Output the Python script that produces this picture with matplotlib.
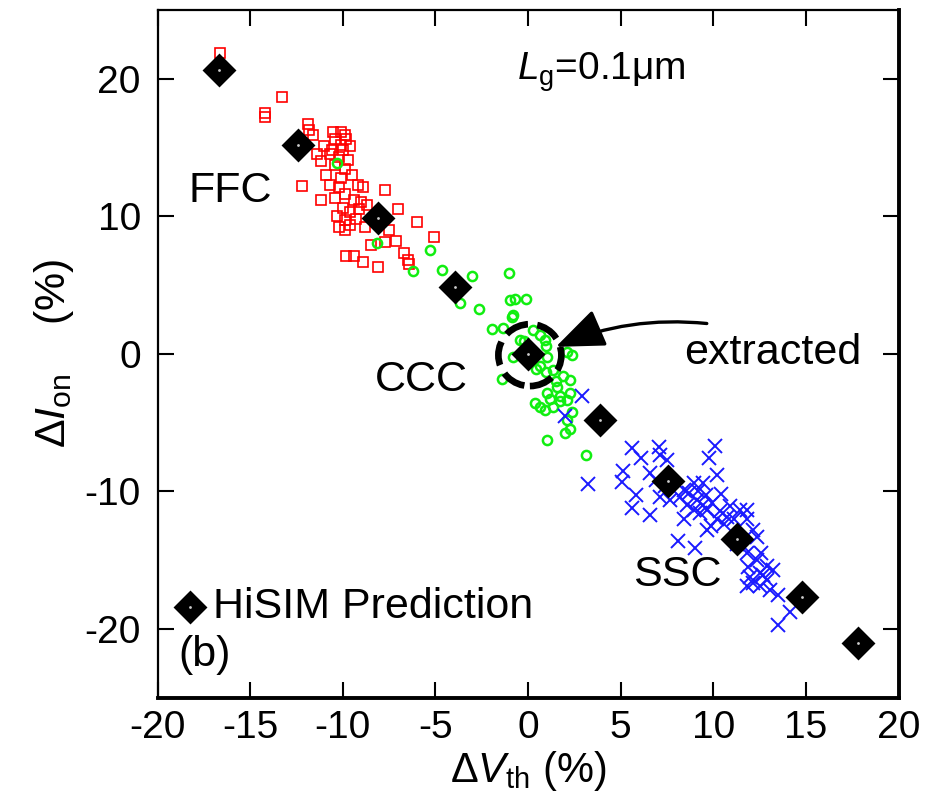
import matplotlib
matplotlib.use('Agg')
import matplotlib.pyplot as plt
from matplotlib.patches import Ellipse

plt.rcParams['font.family'] = ['Liberation Sans', 'DejaVu Sans']
plt.rcParams['mathtext.fontset'] = 'custom'
plt.rcParams['mathtext.rm'] = 'Liberation Sans'
plt.rcParams['mathtext.it'] = 'Liberation Sans:italic'
plt.rcParams['axes.unicode_minus'] = False

# FFC corner samples (red squares)
ffc_dvth = [-16.6, -13.3, -14.2, -14.2, -11.9, -11.8, -11.6, -10.5, -10.1, -9.9,
            -9.8, -10.4, -10.1, -9.6, -11.0, -11.4, -10.7, -10.2, -9.7, -11.2,
            -10.4, -9.9, -10.9, -10.1, -9.5, -12.2, -10.7, -10.2, -9.2, -8.9,
            -7.7, -11.2, -10.4, -9.9, -9.4, -10.0, -9.6, -9.1, -7.0, -9.9,
            -9.6, -9.9, -8.8, -7.5, -6.0, -5.1, -7.1, -6.7, -6.5, -6.4,
            -9.8, -9.4, -8.9, -8.1, -7.7, -8.5, -10.3, -9.3, -10.2, -8.7,
            -9.0, -10.6, -10.0]
ffc_dion = [21.9, 18.7, 17.5, 17.2, 16.7, 16.3, 15.9, 16.1, 16.1, 15.9,
            15.6, 15.6, 15.2, 15.1, 15.1, 14.5, 14.5, 14.3, 14.1, 14.0,
            13.7, 13.4, 13.0, 12.8, 13.0, 12.2, 12.3, 12.1, 12.3, 12.1,
            11.9, 11.2, 11.3, 11.6, 11.2, 10.6, 10.3, 10.5, 10.5, 9.7,
            9.4, 9.0, 9.2, 9.0, 9.6, 8.5, 8.2, 7.3, 6.8, 6.5,
            7.1, 7.1, 6.7, 6.3, 8.1, 7.9, 10.0, 9.8, 9.2, 10.8,
            11.0, 14.8, 14.8]

# CCC corner samples (green circles)
ccc_dvth = [-10.3, -8.15, -5.3, -6.2, -4.65, -3.0, -1.0, -3.65, -2.65, -0.95,
            -0.7, -0.1, -0.85, -1.95, -1.35, 0.25, 0.65, -0.45, 0.95, 2.4,
            2.1, -1.4, 0.65, 1.35, 1.9, 2.25, 0.4, 0.65, 1.0, 1.55,
            1.75, 2.1, 2.25, 1.35, 2.1, 2.25, 2.0, 1.0, 3.15, -0.8,
            1.0, -0.8, 0.45, 0.95, 1.5, 1.2, 1.7, 0.9, 2.4, -0.2,
            0.9]
ccc_dion = [13.9, 8.05, 7.55, 6.0, 6.1, 5.65, 5.9, 3.7, 3.25, 3.9,
            3.95, 4.0, 2.7, 1.8, 1.9, 1.75, 1.4, 1.0, 0.6, -0.1,
            0.1, -1.8, -0.9, -1.15, -1.65, -1.9, -3.55, -3.85, -2.85, -2.4,
            -3.1, -3.35, -2.85, -3.85, -4.8, -5.5, -5.75, -6.25, -7.35, -0.2,
            -0.2, 2.8, -1.1, -1.3, -2.0, -3.3, -3.4, -4.1, -4.2, 0.9,
            1.0]

# SSC corner samples (blue crosses)
ssc_dvth = [2.9, 2.0, 3.25, 5.6, 7.05, 7.15, 7.5, 10.1, 9.75, 10.2,
            5.15, 5.05, 5.85, 5.6, 6.6, 6.6, 8.1, 9.0, 8.95, 9.45,
            7.65, 7.15, 8.2, 9.1, 9.45, 9.65, 9.3, 8.95, 9.95, 10.35,
            10.75, 10.2, 9.9, 9.65, 10.9, 11.45, 11.8, 11.1, 11.8, 12.15,
            12.35, 11.8, 12.35, 12.9, 13.25, 12.5, 12.0, 12.15, 11.8, 12.5,
            12.9, 13.05, 13.5, 14.15, 13.5, 6.1, 8.4, 8.7, 9.2, 8.6,
            9.6, 10.4, 10.6, 11.3, 11.6, 12.6, 12.7, 11.9, 7.4, 6.9,
            8.4]
ssc_dion = [-3.1, -4.55, -9.5, -6.85, -6.75, -7.35, -7.7, -6.7, -7.6, -8.8,
            -8.55, -9.3, -10.25, -11.2, -11.7, -8.65, -13.65, -14.15, -9.4, -9.4,
            -10.6, -10.4, -10.4, -10.6, -11.0, -11.35, -11.6, -11.35, -10.85, -11.45,
            -11.85, -12.05, -12.55, -12.8, -11.1, -11.35, -11.35, -12.05, -12.05, -12.8,
            -13.3, -14.5, -15.0, -15.45, -15.7, -15.95, -16.2, -16.7, -16.9, -16.9,
            -16.45, -17.15, -17.55, -18.75, -19.7, -7.6, -9.9, -10.1, -10.0, -11.0,
            -10.3, -10.2, -12.4, -13.8, -14.0, -14.5, -16.1, -15.5, -9.6, -9.2,
            -12.0]

# HiSIM prediction
hisim_dvth = [-16.7, -12.4, -8.1, -3.95, 0.0, 3.9, 7.55, 11.3, 14.8, 17.8]
hisim_dion = [20.6, 15.2, 9.9, 4.85, 0.0, -4.8, -9.25, -13.5, -17.7, -21.0]

fig = plt.figure(figsize=(9.46, 8.06), dpi=100)
ax = fig.add_axes([0.1665, 0.1346, 0.7833, 0.853])

ax.plot(ffc_dvth, ffc_dion, 's', ms=7.6, mfc='none', mec='#ff0000', mew=1.2, ls='none')
ax.plot(ccc_dvth, ccc_dion, 'o', ms=6.6, mfc='none', mec='#11ee11', mew=1.8, ls='none')
ax.plot(ssc_dvth, ssc_dion, 'x', ms=9.5, mec='#1a1aff', mew=1.4, ls='none')
ax.plot(hisim_dvth, hisim_dion, 'D', ms=15, mfc='black', mec='black', mew=2, ls='none', zorder=5)
ax.plot(hisim_dvth, hisim_dion, 'o', ms=2, color='#cccccc', mew=0, ls='none', zorder=6)

# legend entry drawn by hand
ax.plot([-18.25], [-18.45], 'D', ms=15, mfc='black', mec='black', mew=2, zorder=5)
ax.plot([-18.25], [-18.45], 'o', ms=2, color='#cccccc', mew=0, zorder=6)
ax.text(-17.0, -18.45, 'HiSIM Prediction', fontsize=31, va='center', ha='left')

# extracted point marker
ring = Ellipse((0.1, -0.1), 3.4, 4.5, fill=False, ec='black', lw=4.8,
               ls=(0, (3.6, 1.4)), zorder=7)
ax.add_patch(ring)
ax.annotate('', xy=(1.5, 0.5), xytext=(9.65, 2.2),
            arrowprops=dict(arrowstyle='-|>,head_length=1.5,head_width=0.6',
                            mutation_scale=20, connectionstyle='arc3,rad=0.13',
                            lw=2.4, color='black', shrinkA=0, shrinkB=0),
            zorder=8)
ax.text(8.45, 0.05, 'extracted', fontsize=31, va='center', ha='left')

ax.text(-18.35, 11.8, 'FFC', fontsize=31, va='center', ha='left')
ax.text(-8.26, -1.9, 'CCC', fontsize=31, va='center', ha='left')
ax.text(5.67, -16.1, 'SSC', fontsize=31, va='center', ha='left')
ax.text(-18.9, -21.9, '(b)', fontsize=31, va='center', ha='left')
ax.text(-0.6, 19.9, r'$L_{\rm g}$=0.1μm', fontsize=28, va='baseline', ha='left')

ax.set_xlim(-20, 20)
ax.set_ylim(-25, 25)
ax.set_xticks(range(-20, 21, 5))
ax.set_yticks(range(-20, 21, 10))
ax.tick_params(direction='in', top=True, right=True, length=11.5, width=1.5,
               labelsize=28)
ax.tick_params(axis='x', pad=9)
ax.tick_params(axis='y', pad=12)
for side in ['left', 'top']:
    ax.spines[side].set_linewidth(1.6)
for side in ['right', 'bottom']:
    ax.spines[side].set_linewidth(2.8)

ax.set_xlabel('Δ$V_{\\rm th}$ (%)', fontsize=30, labelpad=2)
ax.set_ylabel('Δ$I_{\\rm on}$    (%)', fontsize=31, labelpad=6)

fig.savefig('out.png', dpi=100)
